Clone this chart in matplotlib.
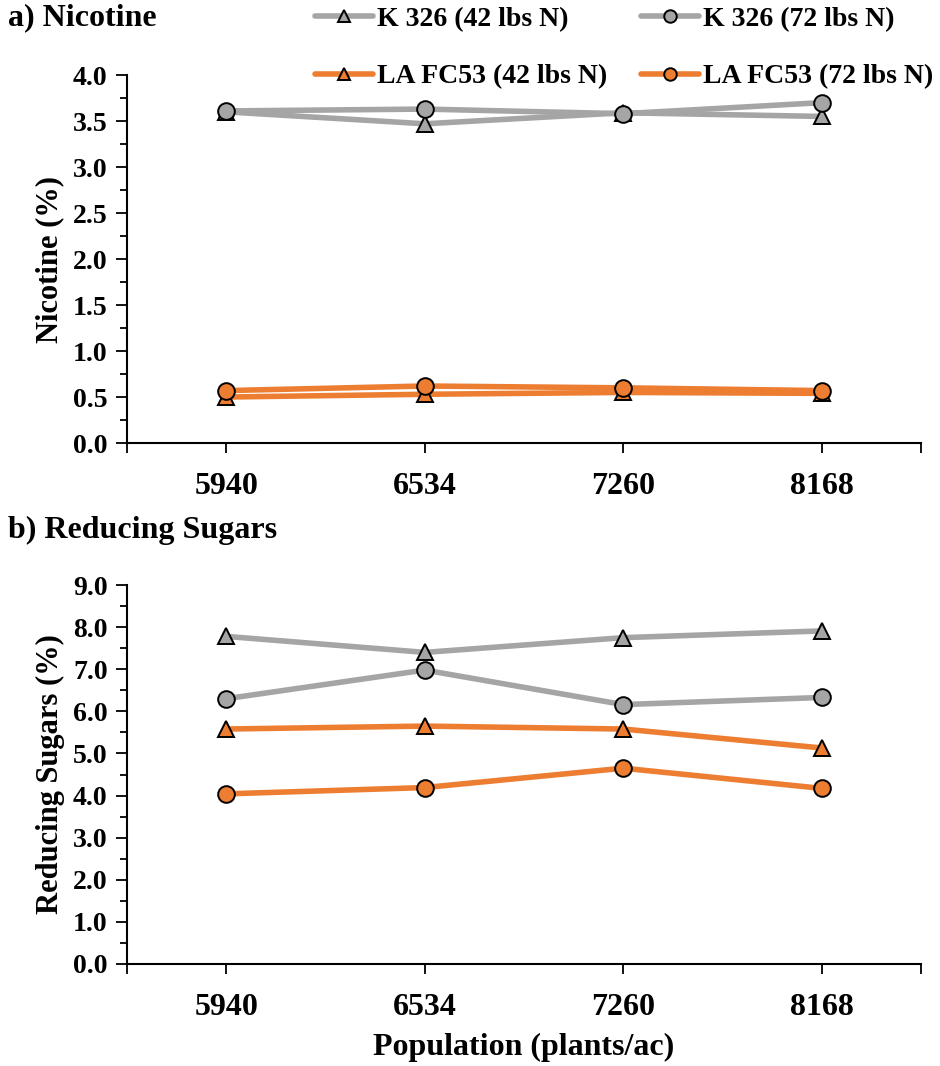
import matplotlib
matplotlib.use("Agg")
import matplotlib.pyplot as plt
from matplotlib.ticker import MultipleLocator, FixedLocator, NullFormatter

plt.rcParams['font.family'] = ['Liberation Serif', 'DejaVu Serif']
plt.rcParams['font.weight'] = 'bold'

populations = ["5940", "6534", "7260", "8168"]

series_labels = ["K 326 (42 lbs N)", "K 326 (72 lbs N)",
                 "LA FC53 (42 lbs N)", "LA FC53 (72 lbs N)"]

nicotine_k326_42 = [3.60, 3.47, 3.59, 3.55]
nicotine_k326_72 = [3.61, 3.63, 3.58, 3.70]
nicotine_lafc53_42 = [0.50, 0.53, 0.55, 0.54]
nicotine_lafc53_72 = [0.57, 0.62, 0.60, 0.57]

sugars_k326_42 = [7.78, 7.40, 7.75, 7.91]
sugars_k326_72 = [6.30, 6.98, 6.16, 6.33]
sugars_lafc53_42 = [5.58, 5.65, 5.58, 5.13]
sugars_lafc53_72 = [4.04, 4.19, 4.65, 4.17]

GRAY = "#A5A5A5"
ORANGE = "#ED7D31"
styles = [(GRAY, "^"), (GRAY, "o"), (ORANGE, "^"), (ORANGE, "o")]

fig = plt.figure(figsize=(9.4, 10.66), dpi=100)
ax1 = fig.add_axes([0.1351, 0.5844, 0.8447, 0.3452])
ax2 = fig.add_axes([0.1351, 0.0957, 0.8447, 0.3555])

x = list(range(len(populations)))


def draw(ax, data, ymax, ystep, ylabel):
    handles = []
    for values, (color, marker), label in zip(data, styles, series_labels):
        h, = ax.plot(x, values, color=color, lw=4.0, marker=marker,
                     markersize=12, markerfacecolor=color,
                     markeredgecolor="black", markeredgewidth=1.4,
                     label=label, solid_capstyle="round", clip_on=False)
        handles.append(h)
    ax.set_xlim(-0.5, len(populations) - 0.5)
    ax.set_ylim(0, ymax)
    ax.yaxis.set_major_locator(MultipleLocator(ystep))
    ax.yaxis.set_minor_locator(MultipleLocator(ystep / 2))
    ax.yaxis.set_major_formatter(plt.FuncFormatter(lambda v, p: f"{v:.1f}"))
    ax.set_xticks(x)
    ax.set_xticklabels(populations, fontsize=23, fontweight="bold")
    ax.xaxis.set_minor_locator(FixedLocator([-0.5, len(populations) - 0.5]))
    ax.xaxis.set_minor_formatter(NullFormatter())
    ax.tick_params(axis="x", which="both", direction="out", length=7,
                   width=1.3, pad=14)
    ax.tick_params(axis="y", which="major", direction="out", length=8,
                   width=1.3, labelsize=20, pad=6)
    ax.tick_params(axis="y", which="minor", direction="out", length=5,
                   width=1.3)
    for lbl in ax.get_yticklabels():
        lbl.set_fontweight("bold")
    for side in ("top", "right"):
        ax.spines[side].set_visible(False)
    for side in ("left", "bottom"):
        ax.spines[side].set_linewidth(1.5)
    ax.set_ylabel(ylabel, fontsize=22, fontweight="bold", labelpad=6)
    return handles


h = draw(ax1, [nicotine_k326_42, nicotine_k326_72,
               nicotine_lafc53_42, nicotine_lafc53_72],
         4.0, 0.5, "Nicotine (%)")
draw(ax2, [sugars_k326_42, sugars_k326_72,
           sugars_lafc53_42, sugars_lafc53_72],
     9.0, 1.0, "Reducing Sugars (%)")

ax2.set_xlabel("Population (plants/ac)", fontsize=23, fontweight="bold",
               labelpad=8)

fig.text(0.009, 0.983, "a) Nicotine", fontsize=23, fontweight="bold",
         va="center", ha="left")
fig.text(0.009, 0.502, "b) Reducing Sugars", fontsize=23, fontweight="bold",
         va="center", ha="left")

leg = fig.legend([h[0], h[2], h[1], h[3]],
                 [series_labels[0], series_labels[2],
                  series_labels[1], series_labels[3]],
                 ncol=2, loc="center", bbox_to_anchor=(0.664, 0.955),
                 frameon=False, markerscale=0.75,
                 handlelength=2.1, handletextpad=0.15, columnspacing=1.2,
                 labelspacing=1.15, borderpad=0.0,
                 prop={"weight": "bold", "size": 20})

fig.savefig("out.png", dpi=100)
